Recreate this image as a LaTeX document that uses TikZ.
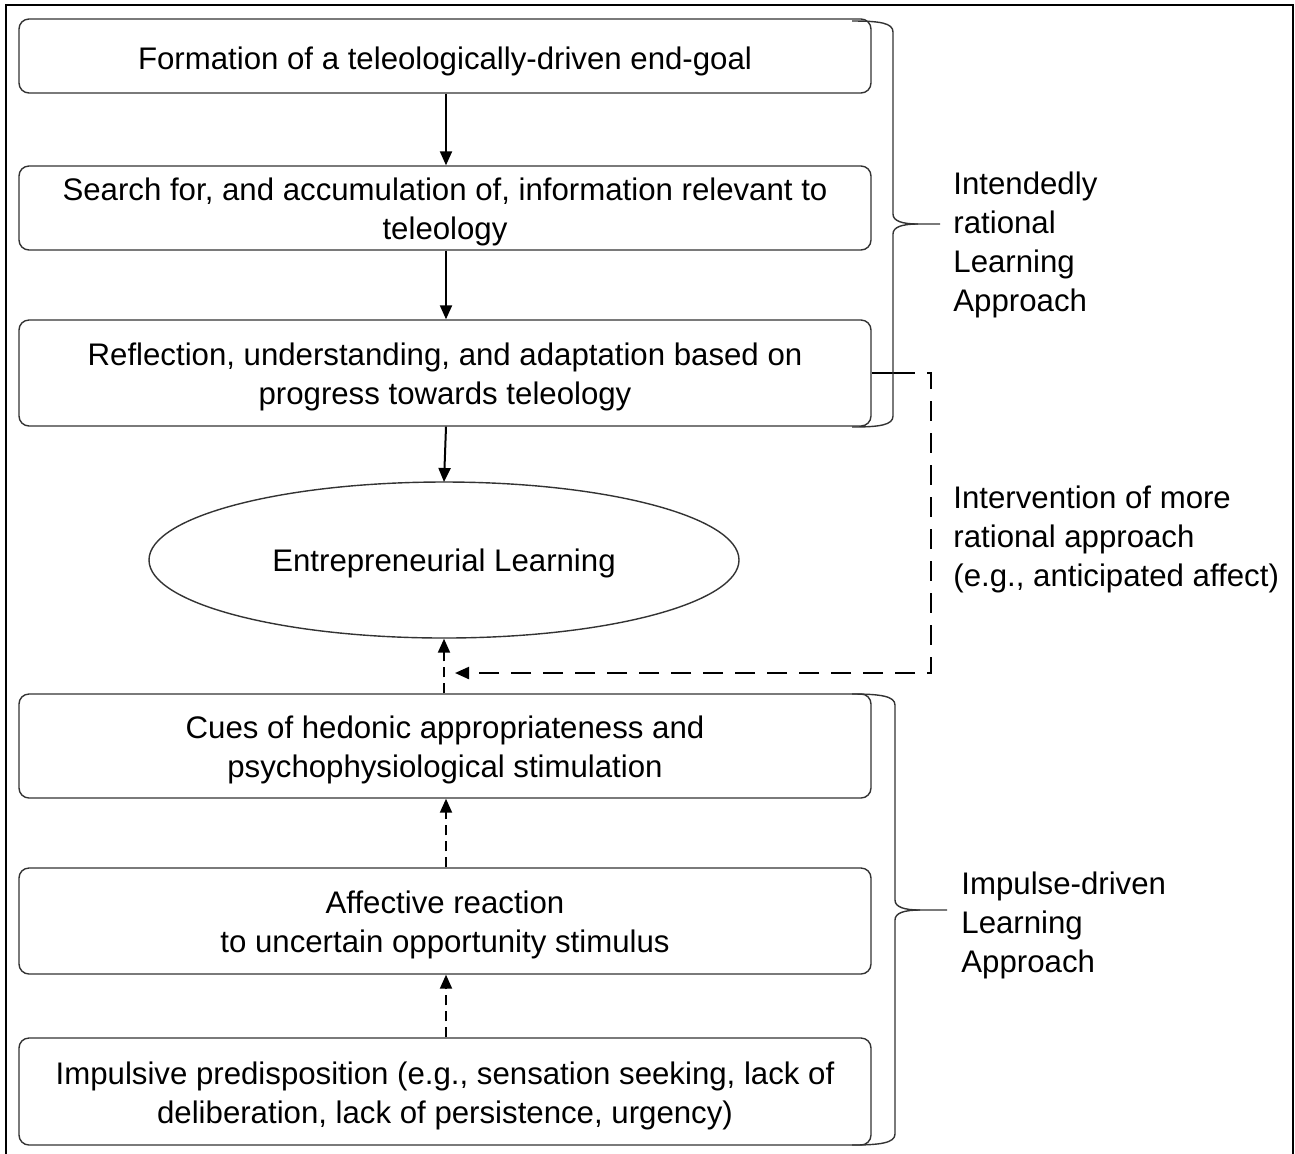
\documentclass[tikz,border=0pt]{standalone}
\usepackage{fontspec}
\setmainfont{Liberation Sans}
\usetikzlibrary{arrows.meta,shapes.geometric}
\begin{document}
\begin{tikzpicture}[x=0.5pt,y=-0.5pt,
  every node/.style={font=\fontsize{15.6}{19.5}\selectfont, text=black},
  lowered/.style={execute at begin node={\rule{0pt}{#1}}},
  lowered/.default=14.6pt,
  box/.style={draw=black!80, line width=0.7pt, rounded corners=5pt,
    minimum width=426pt, inner sep=0pt, align=center},
  stage/.style={box, text height=35.2pt, text depth=3.3pt},
  flow/.style={line width=1pt, -{Triangle[length=7pt,width=6pt]}},
  cue/.style={line width=1pt, dash pattern=on 5pt off 3pt, -{Triangle[length=7pt,width=6pt]}},
  feedback/.style={line width=1.1pt, dash pattern=on 10pt off 6pt, -{Triangle[length=7pt,width=6pt]}},
  brace/.style={draw=black!80, line width=0.7pt},
  side/.style={anchor=west, align=left, inner sep=0pt}]
\useasboundingbox (0,0) rectangle (1295,1153);
% outer frame
\draw[line width=1pt] (6,1165) -- (6,5) -- (1293,5) -- (1293,1165);

% stages of the rational approach
\node[box, minimum height=37pt, lowered=16.6pt] (goal) at (445,56) {Formation of a teleologically-driven end-goal};
\node[stage, minimum height=42pt] (search) at (445,208) {Search for, and accumulation of, information relevant to\\teleology};
\node[stage, minimum height=53pt] (reflect) at (445,373) {Reflection, understanding, and adaptation based on\\progress towards teleology};

% central outcome
\node[draw=black!80, line width=0.7pt, ellipse, minimum width=295pt, minimum height=78pt, inner sep=0pt, lowered] (el) at (444,560) {Entrepreneurial Learning};

% stages of the impulse-driven approach
\node[stage, minimum height=52pt] (cues) at (445,746) {Cues of hedonic appropriateness and\\psychophysiological stimulation};
\node[stage, minimum height=53pt] (affect) at (445,921) {Affective reaction\\to uncertain opportunity stimulus};
\node[stage, minimum height=53.5pt] (impulse) at (445,1091.5) {Impulsive predisposition (e.g., sensation seeking, lack of\\deliberation, lack of persistence, urgency)};

% connectors
\draw[flow] (goal.south -| 446,0) -- (search.north -| 446,0);
\draw[flow] (search.south -| 446,0) -- (reflect.north -| 446,0);
\draw[flow] (reflect.south -| 446,0) -- (el.south |- 0,482);
\draw[cue] (cues.north -| 444,0) -- (el.south);
\draw[cue] (affect.north -| 446,0) -- (cues.south -| 446,0);
\draw[cue] (impulse.north -| 446,0) -- (affect.south -| 446,0);

\coordinate (fa) at (931,373);
\coordinate (fb) at (931,673);
\coordinate (fc) at (455,673);
\draw[line width=1pt] (reflect.east) -- (895,373);
\draw[feedback] (895,373) -- (fa) -- (fb) -- (fc);

% braces
\draw[brace] (852,21) .. controls (880,21) and (893,23) .. (893,32)
  -- (893,214) .. controls (893,221) and (902,224) .. (918,224) -- (940,224);
\draw[brace] (852,427) .. controls (880,427) and (893,425) .. (893,416)
  -- (893,234) .. controls (893,227) and (902,224) .. (918,224);
\draw[brace] (852,694) .. controls (880,694) and (895,696) .. (895,705)
  -- (895,900) .. controls (895,907) and (904,910) .. (920,910) -- (947,910);
\draw[brace] (852,1145) .. controls (880,1145) and (895,1143) .. (895,1134)
  -- (895,920) .. controls (895,913) and (904,910) .. (920,910);

% labels
\node[side] (lrat) at (953,245) {Intendedly\\rational\\Learning\\Approach};
\node[side] (lint) at (953,539) {Intervention of more\\rational approach\\(e.g., anticipated affect)};
\node[side] (limp) at (961,925) {Impulse-driven\\Learning\\Approach};
\end{tikzpicture}
\end{document}
